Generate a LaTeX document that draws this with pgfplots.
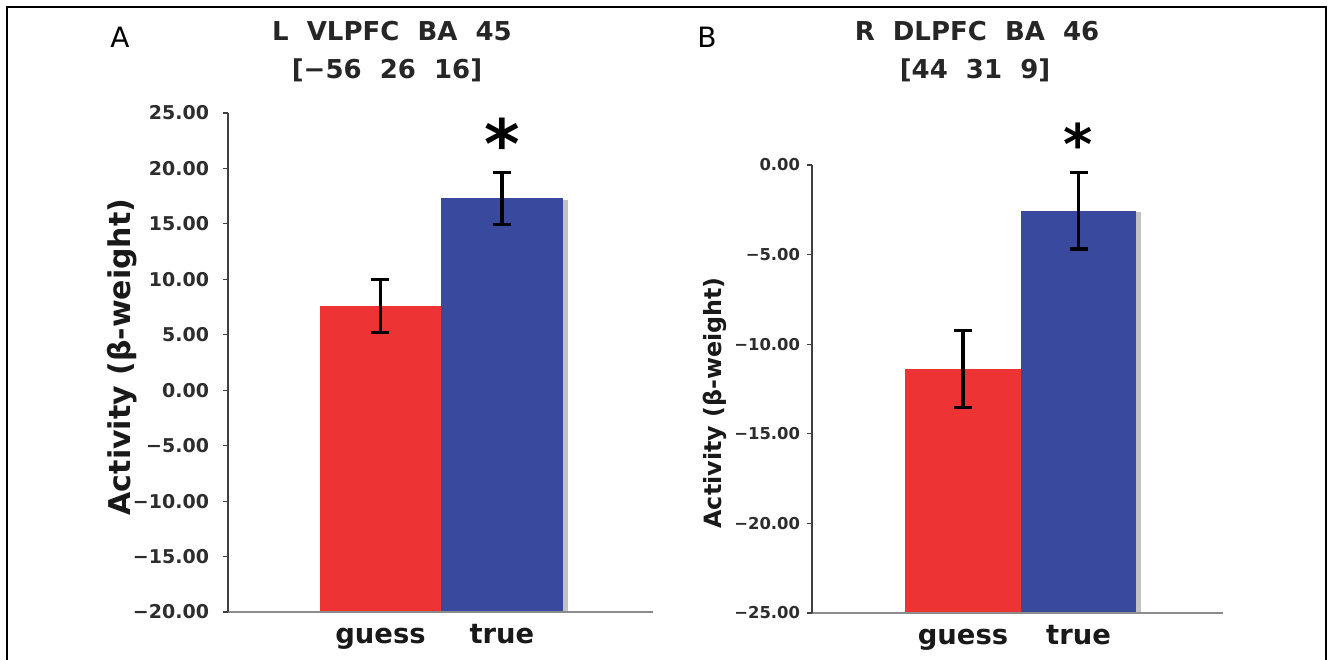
\documentclass[border=0pt]{standalone}
\usepackage{pgfplots}
\pgfplotsset{compat=1.18}
\usepackage{pgfplotstable}
\usepackage{fontspec}
\setmainfont{DejaVu Sans}
\definecolor{barred}{RGB}{237,51,52}
\definecolor{barblue}{RGB}{57,73,157}
\definecolor{ticktext}{RGB}{45,45,45}

% panel A: left VLPFC (values as read)
\pgfplotstableread{
x v e
1 7.6 2.4
}\Aguess
\pgfplotstableread{
x v e
2 17.3 2.35
}\Atrue
% panel B: right DLPFC
\pgfplotstableread{
x v e
1 -11.4 2.15
}\Bguess
\pgfplotstableread{
x v e
2 -2.55 2.14
}\Btrue

\pgfplotsset{
  panel/.style={
    scale only axis, anchor=south west,
    axis x line=bottom, axis y line=left,
    axis line style={-},
    axis on top,
    x axis line style={draw=black!45, line width=1bp},
    y axis line style={draw=black!75, line width=0.6bp},
    tick align=outside, major tick length=2.5bp,
    ytick style={draw=black!75, line width=0.6bp},
    xtick style={draw=none},
    xtick={1,2}, xticklabels={guess,true},
    xticklabel style={font=\fontsize{13.7bp}{16bp}\selectfont\bfseries, text=black!90, anchor=base, yshift=-13.25bp},
    clip mode=individual,
    every axis y label/.style={rotate=90, anchor=center, font=\bfseries, text=black!90},
  },
  barstyle/.style={ybar, bar width=1, bar shift=0pt, draw=none, fill=#1},
  shadow/.style={ybar, bar width=1, bar shift=2.5bp, draw=none, fill=black!24},
  errs/.style={error bars/.cd, y dir=both, y explicit,
    error bar style={line width=1.6bp, black},
    error mark options={rotate=90, mark size=4.5bp, line width=1.6bp, black}},
}

\begin{document}
\begin{tikzpicture}
\path[use as bounding box] (0,0) rectangle (664bp,330bp);
\draw[line width=1bp] (3.5bp,0) -- (3.5bp,326.5bp) -- (663bp,326.5bp) -- (663bp,0);

% ---------- Panel A ----------
\begin{axis}[panel, at={(114bp,24bp)}, width=212.5bp, height=249.5bp,
  xmin=-0.255, xmax=3.243, ymin=0, ymax=45,
  ytick={0,5,...,45},
  yticklabels={−20.00,−15.00,−10.00,−5.00,0.00,5.00,10.00,15.00,20.00,25.00},
  yticklabel style={font=\fontsize{9.5bp}{11bp}\selectfont\bfseries, text=ticktext, xshift=-3.5bp},
  ylabel={Activity (β-weight)},
  ylabel style={at={(axis description cs:0,0.511)}, yshift=53bp, font=\fontsize{15bp}{17bp}\selectfont\bfseries},
]
\addplot[shadow] table[x=x, y expr=\thisrow{v}+20-0.15] {\Atrue};
\addplot[barstyle=barred, errs] table[x=x, y expr=\thisrow{v}+20, y error=e] {\Aguess};
\addplot[barstyle=barblue, errs] table[x=x, y expr=\thisrow{v}+20, y error=e] {\Atrue};
\node[font=\fontsize{34bp}{34bp}\selectfont\bfseries, anchor=center, yshift=-4bp] at (axis cs:2,43) {*};
\end{axis}

% ---------- Panel B ----------
\begin{axis}[panel, at={(406bp,23.5bp)}, width=205.5bp, height=224bp,
  xmin=-0.307, xmax=3.251, ymin=0, ymax=25,
  ytick={0,5,...,25},
  yticklabels={−25.00,−20.00,−15.00,−10.00,−5.00,0.00},
  yticklabel style={font=\fontsize{8.2bp}{10bp}\selectfont\bfseries, text=ticktext},
  ylabel={Activity (β-weight)},
  ylabel style={at={(axis description cs:0,0.469)}, yshift=48.5bp, font=\fontsize{11.9bp}{14bp}\selectfont\bfseries},
]
\addplot[shadow] table[x=x, y expr=\thisrow{v}+25-0.1] {\Btrue};
\addplot[barstyle=barred, errs] table[x=x, y expr=\thisrow{v}+25, y error=e] {\Bguess};
\addplot[barstyle=barblue, errs] table[x=x, y expr=\thisrow{v}+25, y error=e] {\Btrue};
\node[font=\fontsize{28bp}{28bp}\selectfont\bfseries, anchor=center, yshift=-3bp] at (axis cs:2,26.5) {*};
\end{axis}

% ---------- titles and panel letters ----------
\node[anchor=base, font=\fontsize{14bp}{16bp}\selectfont] at (60bp,306bp) {A};
\node[anchor=base, font=\fontsize{14bp}{16bp}\selectfont] at (353.5bp,306bp) {B};
\node[anchor=base, font=\fontsize{13bp}{15bp}\selectfont\bfseries, text=black!85] at (196bp,309.5bp) {L\ \ VLPFC\ \ BA\ \ 45};
\node[anchor=base, font=\fontsize{13bp}{15bp}\selectfont\bfseries, text=black!85] at (193.5bp,290.5bp) {[−56\ \ 26\ \ 16]};
\node[anchor=base, font=\fontsize{13bp}{15bp}\selectfont\bfseries, text=black!85] at (488.5bp,309.5bp) {R\ \ DLPFC\ \ BA\ \ 46};
\node[anchor=base, font=\fontsize{13bp}{15bp}\selectfont\bfseries, text=black!85] at (487.5bp,290.5bp) {[44\ \ 31\ \ 9]};
\end{tikzpicture}
\end{document}
